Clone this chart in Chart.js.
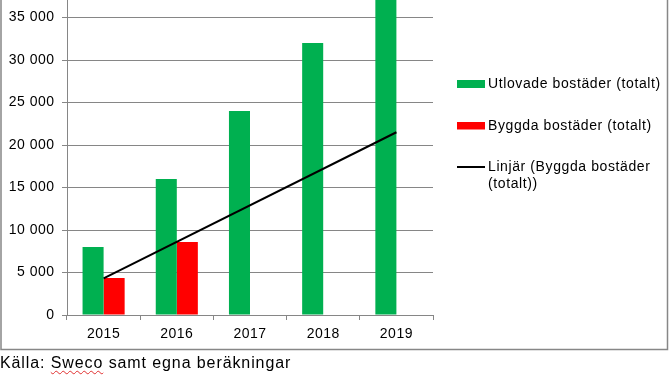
<!DOCTYPE html>
<html>
<head>
<meta charset="utf-8">
<script src="https://cdn.jsdelivr.net/npm/chart.js@4/dist/chart.umd.min.js"></script>
<style>
  html, body { margin: 0; padding: 0; background: #fff; }
  #wrap { position: relative; width: 672px; height: 377px; overflow: hidden; }
  #caption { position: absolute; left: 0px; top: 354px; font-family: "Liberation Sans", Arial, sans-serif; font-size: 16px; letter-spacing: 0.9px; color: #000; white-space: nowrap; }
  #caption .sp { text-decoration: underline wavy #e03030; text-decoration-thickness: 1px; text-underline-offset: 2px; }
</style>
</head>
<body>
<div id="wrap">
  <canvas id="c" width="672" height="377"></canvas>
  <div id="caption">Källa: <span class="sp">Sweco</span> samt egna beräkningar</div>
</div>
<script>
const categories = ['2015', '2016', '2017', '2018', '2019'];
const utlovade = [8000, 16000, 24000, 32000, 40000];
const byggda = [4350, 8600, null, null, null];
const trend = [4300, null, null, null, 21500];
const seriesNames = ['Utlovade bostäder (totalt)', 'Byggda bostäder (totalt)', ['Linjär (Byggda bostäder', '(totalt))']];
const yTicks = [0, 5000, 10000, 15000, 20000, 25000, 30000, 35000];

const GRID = '#868686';

const frameLegend = {
  id: 'frameLegend',
  beforeDraw(chart) {
    const ctx = chart.ctx;
    ctx.letterSpacing = '0.5px';
    ctx.save();
    ctx.strokeStyle = '#878787';
    ctx.lineWidth = 1.5;
    ctx.beginPath();
    ctx.moveTo(1, -5);
    ctx.lineTo(1, 349.5);
    ctx.lineTo(667.5, 349.5);
    ctx.lineTo(667.5, -5);
    ctx.stroke();
    ctx.restore();
  },
  afterDraw(chart) {
    const ctx = chart.ctx;
    const ds = chart.data.datasets;
    ctx.save();
    ctx.font = '14px "Liberation Sans", Arial, sans-serif';
    ctx.letterSpacing = '0.6px';
    ctx.fillStyle = '#000';
    ctx.textBaseline = 'middle';
    ctx.textAlign = 'left';
    const x0 = 457, x1 = 485, tx = 488;
    // item 1
    ctx.fillStyle = ds[0].backgroundColor;
    ctx.fillRect(x0, 80, x1 - x0, 8);
    ctx.fillStyle = '#000';
    ctx.fillText(ds[0].label, tx, 84.5);
    // item 2
    ctx.fillStyle = ds[1].backgroundColor;
    ctx.fillRect(x0, 122, x1 - x0, 7.5);
    ctx.fillStyle = '#000';
    ctx.fillText(ds[1].label, tx, 126);
    // item 3
    ctx.strokeStyle = ds[2].borderColor;
    ctx.lineWidth = 2;
    ctx.beginPath();
    ctx.moveTo(x0, 167);
    ctx.lineTo(x1, 167);
    ctx.stroke();
    const lbl = seriesNames[2];
    ctx.fillText(lbl[0], tx, 167.5);
    ctx.fillText(lbl[1], tx, 184);
    ctx.restore();
  }
};

new Chart(document.getElementById('c'), {
  type: 'bar',
  data: {
    labels: categories,
    datasets: [
      { label: seriesNames[0], data: utlovade, backgroundColor: '#00B050', borderWidth: 0, order: 1,
        categoryPercentage: 0.575, barPercentage: 1.0 },
      { label: seriesNames[1], data: byggda, backgroundColor: '#FF0000', borderWidth: 0, order: 1,
        categoryPercentage: 0.575, barPercentage: 1.0 },
      { type: 'line', label: seriesNames[2].join(' '), data: trend, borderColor: '#000', backgroundColor: '#000',
        borderWidth: 2, pointRadius: 0, spanGaps: true, order: 0, tension: 0 }
    ]
  },
  options: {
    responsive: false,
    animation: false,
    devicePixelRatio: 1,
    layout: { padding: { left: 0, right: 672 - 433, top: 0, bottom: 0 } },
    plugins: { legend: { display: false }, tooltip: { enabled: false } },
    font: { family: '"Liberation Sans", Arial, sans-serif', size: 14 },
    scales: {
      x: {
        grid: { display: true, drawOnChartArea: false, drawTicks: true, tickLength: 5, color: GRID, offset: true },
        border: { display: true, color: GRID },
        ticks: { color: '#000', padding: 6, font: { family: '"Liberation Sans", Arial, sans-serif', size: 14 } },
        afterFit(s) { s.height = 62; s.paddingLeft = 0; s.paddingRight = 0; }
      },
      y: {
        min: 0,
        max: 37060,
        grid: { color: GRID, tickLength: 5, drawTicks: true },
        border: { display: true, color: GRID },
        afterBuildTicks(s) { s.ticks = yTicks.map(v => ({ value: v })); },
        ticks: {
          color: '#000', padding: 7.5, includeBounds: false,
          font: { family: '"Liberation Sans", Arial, sans-serif', size: 14 },
          callback(v) { return String(v).replace(/\B(?=(\d{3})+(?!\d))/g, ' '); }
        },
        afterFit(s) { s.width = 67; s.paddingTop = 0; s.paddingBottom = 0; }
      }
    }
  },
  plugins: [frameLegend]
});
</script>
</body>
</html>
